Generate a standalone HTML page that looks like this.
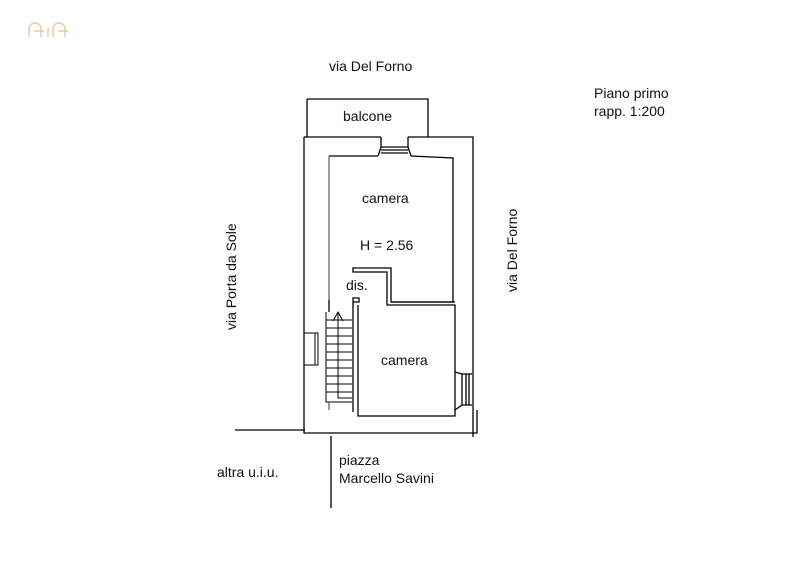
<!DOCTYPE html>
<html><head><style>body{margin:0;background:#fff}svg text{font-family:"Liberation Sans",sans-serif;font-size:14px;fill:#111}</style></head>
<body>
<svg width="788" height="560" viewBox="0 0 788 560" xmlns="http://www.w3.org/2000/svg">
<g fill="none" stroke="#000" stroke-width="1.3">
<!-- logo -->
<g stroke="#e8c9a0" stroke-width="1.5"><path d="M29 37v-8a6 6 0 0 1 12 0v8M34 31h10M53 37v-8a6 6 0 0 1 12 0v8M58 31h10M48 28v9"/></g>
<!-- balcony -->
<path d="M307 99H428V137M307 99V137"/>
<!-- outer walls -->
<path d="M304 137H381M408 137H473V437M304 137V433H477V410"/>
<path d="M381 137V147H408V137M378 156L381 147M411 156L408 147M381 150H408M381 153H408"/>
<!-- inner camera -->
<path d="M329 156H378M411 156L453 158V300" />
<path d="M329 156V300" stroke="#666"/>
<path d="M453 300V302H391V268H353V272H387V298" />
<path d="M387 298V305H455V372"/>
<path d="M391 302H455"/>
<!-- lower camera -->
<path d="M358 305V416H455V372"/>
<path d="M455 372L462 374V405L455 410M462 374H472M462 405H472M466 374V405M469 374V405"/>
<path d="M353 302V412M359 298V302H353V298Z"/>
<path d="M326 312V402H352M338 312V398H352" stroke-width="1"/>
<g stroke-width="1"><path d="M326 320H352M326 328H352M326 336H352M326 344H352M326 352H352M326 360H352M326 368H352M326 376H352M326 384H352M326 392H352"/><path d="M333 321L338 312L343 321"/></g>
<path d="M304 333H318V365H304M315 333V365" stroke-width="1"/>
<path d="M329 300V312"/>
<path d="M329 402V410" stroke="#666"/>
<!-- outside lines -->
<path d="M235 430H305M331 436V508"/>
</g>
<text x="329" y="71">via Del Forno</text>
<text x="594" y="98">Piano primo</text>
<text x="594" y="116">rapp. 1:200</text>
<text x="343" y="121">balcone</text>
<text x="362" y="203">camera</text>
<text x="360" y="250">H = 2.56</text>
<text x="346" y="290">dis.</text>
<text x="381" y="365">camera</text>
<text transform="translate(236,330) rotate(-90)">via Porta da Sole</text>
<text transform="translate(517,292) rotate(-90)">via Del Forno</text>
<text x="217" y="477">altra u.i.u.</text>
<text x="339" y="465">piazza</text>
<text x="339" y="483">Marcello Savini</text>
</svg>
</body></html>
